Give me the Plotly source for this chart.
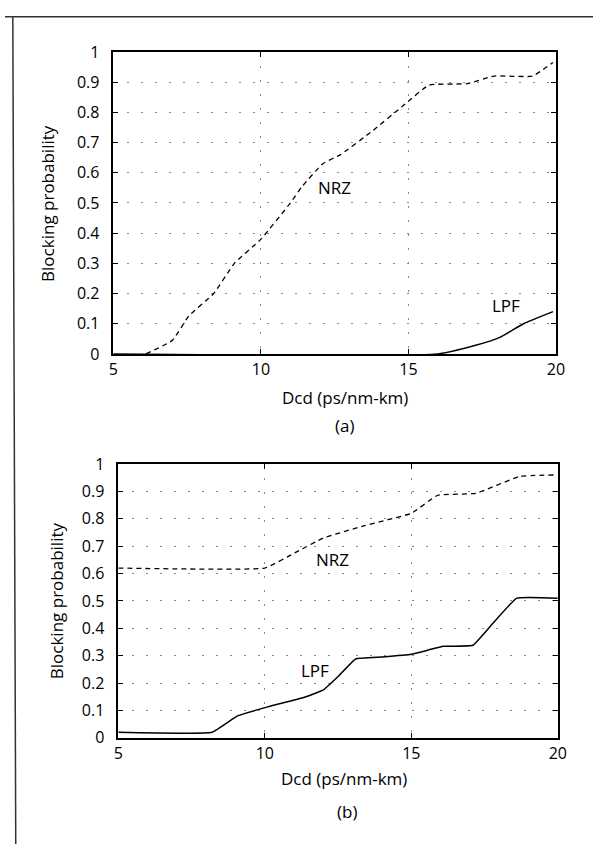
import plotly.graph_objects as go

# ---- data ----
a_nrz_x = [6.1, 7.0, 7.55, 8.4, 9.1, 10.0, 11.0, 11.4, 12.1, 12.7, 13.8, 14.8, 15.7, 17.0, 17.9, 19.2, 19.9]
a_nrz_y = [0.0, 0.045, 0.125, 0.20, 0.30, 0.38, 0.50, 0.555, 0.63, 0.66, 0.74, 0.82, 0.89, 0.895, 0.92, 0.92, 0.965]
a_lpf_x = [5.0, 16.0, 17.25, 18.1, 18.9, 19.9]
a_lpf_y = [0.0, 0.0, 0.028, 0.055, 0.10, 0.14]

b_nrz_x = [5.0, 10.0, 11.1, 12.0, 13.4, 15.0, 15.9, 17.2, 18.7, 19.9]
b_nrz_y = [0.62, 0.62, 0.68, 0.73, 0.775, 0.82, 0.886, 0.893, 0.955, 0.96]
b_lpf_x = [5.0, 8.2, 9.07, 10.1, 11.3, 12.0, 12.5, 13.1, 14.0, 15.0, 16.1, 17.1, 17.8, 18.6, 20.0]
b_lpf_y = [0.02, 0.02, 0.08, 0.113, 0.146, 0.175, 0.224, 0.288, 0.295, 0.305, 0.334, 0.338, 0.42, 0.51, 0.51]

x_ticks = [5, 10, 15, 20]
y_ticks = [0, 0.1, 0.2, 0.3, 0.4, 0.5, 0.6, 0.7, 0.8, 0.9, 1]
x_title = "Dcd (ps/nm-km)"
y_title = "Blocking probability"
panel_labels = ["(a)", "(b)"]

W, H = 602, 855
FONT = "Open Sans"
FS_TICK = 16
FS = 17

fig = go.Figure()
fig.add_trace(go.Scatter(x=a_nrz_x, y=a_nrz_y, mode="lines", xaxis="x", yaxis="y",
                         line=dict(color="black", width=1.3, dash="5px,4px", shape="spline", smoothing=0.4),
                         showlegend=False))
fig.add_trace(go.Scatter(x=a_lpf_x, y=a_lpf_y, mode="lines", xaxis="x", yaxis="y",
                         line=dict(color="black", width=1.5, shape="spline", smoothing=0.4),
                         showlegend=False))
fig.add_trace(go.Scatter(x=b_nrz_x, y=b_nrz_y, mode="lines", xaxis="x2", yaxis="y2",
                         line=dict(color="black", width=1.3, dash="5px,4px", shape="spline", smoothing=0.3),
                         showlegend=False))
fig.add_trace(go.Scatter(x=b_lpf_x, y=b_lpf_y, mode="lines", xaxis="x2", yaxis="y2",
                         line=dict(color="black", width=1.5, shape="spline", smoothing=0.3),
                         showlegend=False))

def px(x):
    return x / W

def py(y):
    return 1 - y / H

axis_common = dict(showline=True, linecolor="black", linewidth=1.6, mirror="ticks",
                   ticks="inside", ticklen=5, tickcolor="black", zeroline=False,
                   showgrid=True, gridcolor="#888", gridwidth=1, griddash="2px,12px",
                   tickfont=dict(family=FONT, size=FS_TICK, color="black"))

fig.update_layout(
    width=W, height=H, margin=dict(l=0, r=0, t=0, b=0),
    paper_bgcolor="white", plot_bgcolor="white",
    xaxis=dict(domain=[px(111), px(564)], range=[5, 20], tickvals=x_ticks, anchor="y",
               ticklabelstandoff=0, **axis_common),
    yaxis=dict(domain=[py(352), py(42)], range=[0, 1], tickvals=y_ticks, anchor="x",
               ticklabelstandoff=9, **axis_common),
    xaxis2=dict(domain=[px(116), px(566)], range=[5, 20], tickvals=x_ticks, anchor="y2",
                ticklabelstandoff=0, **axis_common),
    yaxis2=dict(domain=[py(746), py(465)], range=[0, 1], tickvals=y_ticks, anchor="x2",
                ticklabelstandoff=9, **axis_common),
)

txt = dict(family=FONT, size=FS, color="black")
C = dict(showarrow=False, font=txt, xanchor="center", yanchor="middle")
ann = []
# curve labels
ann.append(dict(x=12.5, y=0.55, xref="x", yref="y", text="NRZ", **C))
ann.append(dict(x=18.3, y=0.16, xref="x", yref="y", text="LPF", **C))
ann.append(dict(x=12.3, y=0.65, xref="x2", yref="y2", text="NRZ", **C))
ann.append(dict(x=11.7, y=0.245, xref="x2", yref="y2", text="LPF", **C))
# axis titles
ann.append(dict(x=px(44), y=py(197), xref="paper", yref="paper", text=y_title, textangle=-90, **C))
ann.append(dict(x=px(53), y=py(605), xref="paper", yref="paper", text=y_title, textangle=-90, **C))
ann.append(dict(x=px(348), y=py(397), xref="paper", yref="paper", text=x_title, **C))
ann.append(dict(x=px(347), y=py(788), xref="paper", yref="paper", text=x_title, **C))
ann.append(dict(x=px(348), y=py(425), xref="paper", yref="paper", text=panel_labels[0], **C))
ann.append(dict(x=px(350), y=py(822), xref="paper", yref="paper", text=panel_labels[1], **C))
fig.update_layout(annotations=ann)

# outer page frame lines
fig.add_shape(type="line", xref="paper", yref="paper", x0=0, x1=1, y0=py(6), y1=py(6),
              line=dict(color="#333", width=1.5))
fig.add_shape(type="line", xref="paper", yref="paper", x0=px(8), x1=px(11), y0=py(6), y1=py(855),
              line=dict(color="#333", width=1.5))

fig.write_html("out.html")
